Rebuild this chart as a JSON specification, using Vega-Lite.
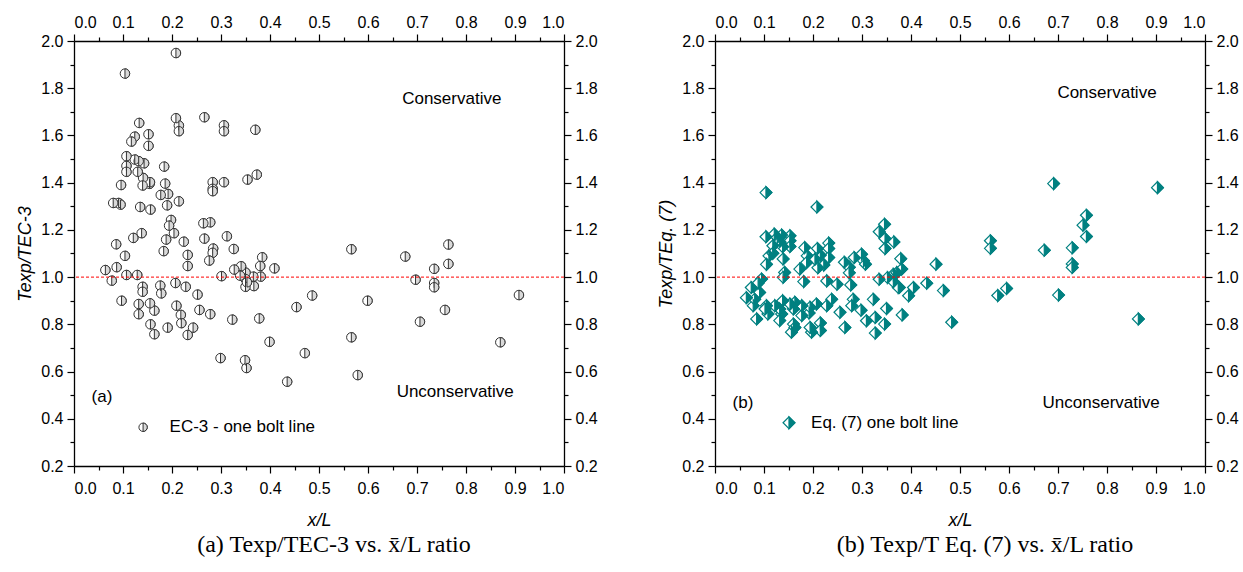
{
  "$schema": "https://vega.github.io/schema/vega-lite/v6.json",
  "padding": {"left": 16, "top": 14, "right": 5, "bottom": 5},
  "config": {
    "view": {"stroke": null},
    "font": "Liberation Sans",
    "axis": {"grid": false, "domainColor": "black", "domainWidth": 1.3, "tickColor": "black", "tickWidth": 1.2, "labelColor": "black", "labelFontSize": 16, "labelFont": "Liberation Sans", "titleColor": "black", "titleFont": "Liberation Sans", "titleFontWeight": "normal", "titleFontStyle": "italic", "titleFontSize": 18}
  },
  "datasets": {
    "ec3": [
      {"x":0.208,"y":1.949},{"x":0.104,"y":1.862},{"x":0.133,"y":1.653},{"x":0.208,"y":1.673},{"x":0.214,"y":1.642},{"x":0.214,"y":1.618},{"x":0.266,"y":1.677},{"x":0.306,"y":1.643},{"x":0.306,"y":1.618},{"x":0.370,"y":1.624},
      {"x":0.152,"y":1.605},{"x":0.124,"y":1.595},{"x":0.117,"y":1.574},{"x":0.152,"y":1.556},{"x":0.107,"y":1.512},{"x":0.124,"y":1.498},{"x":0.132,"y":1.491},{"x":0.143,"y":1.482},{"x":0.107,"y":1.471},{"x":0.107,"y":1.446},
      {"x":0.130,"y":1.446},{"x":0.184,"y":1.468},{"x":0.141,"y":1.420},{"x":0.140,"y":1.388},{"x":0.154,"y":1.395},{"x":0.155,"y":1.402},{"x":0.096,"y":1.390},{"x":0.186,"y":1.396},{"x":0.283,"y":1.402},{"x":0.283,"y":1.374},
      {"x":0.283,"y":1.364},{"x":0.306,"y":1.402},{"x":0.354,"y":1.413},{"x":0.373,"y":1.434},{"x":0.177,"y":1.348},{"x":0.192,"y":1.352},{"x":0.190,"y":1.304},{"x":0.214,"y":1.321},{"x":0.080,"y":1.314},{"x":0.091,"y":1.314},
      {"x":0.095,"y":1.307},{"x":0.135,"y":1.297},{"x":0.156,"y":1.286},{"x":0.198,"y":1.242},{"x":0.194,"y":1.218},{"x":0.204,"y":1.186},{"x":0.264,"y":1.228},{"x":0.278,"y":1.232},{"x":0.138,"y":1.186},{"x":0.121,"y":1.166},
      {"x":0.188,"y":1.159},{"x":0.224,"y":1.150},{"x":0.266,"y":1.163},{"x":0.312,"y":1.173},{"x":0.086,"y":1.139},{"x":0.284,"y":1.121},{"x":0.283,"y":1.103},{"x":0.326,"y":1.119},{"x":0.183,"y":1.110},{"x":0.232,"y":1.094},
      {"x":0.232,"y":1.047},{"x":0.104,"y":1.090},{"x":0.276,"y":1.070},{"x":0.384,"y":1.084},{"x":0.380,"y":1.047},{"x":0.409,"y":1.037},{"x":0.566,"y":1.118},{"x":0.087,"y":1.042},{"x":0.064,"y":1.030},{"x":0.341,"y":1.046},
      {"x":0.327,"y":1.032},{"x":0.350,"y":1.019},{"x":0.339,"y":1.006},{"x":0.301,"y":1.004},{"x":0.107,"y":1.009},{"x":0.129,"y":1.009},{"x":0.366,"y":1.002},{"x":0.381,"y":1.002},
      {"x":0.077,"y":0.985},{"x":0.207,"y":0.975},{"x":0.140,"y":0.959},{"x":0.140,"y":0.938},{"x":0.176,"y":0.964},{"x":0.178,"y":0.931},{"x":0.228,"y":0.959},{"x":0.252,"y":0.926},{"x":0.350,"y":0.992},{"x":0.350,"y":0.959},
      {"x":0.367,"y":0.962},{"x":0.353,"y":0.978},{"x":0.097,"y":0.900},{"x":0.132,"y":0.886},{"x":0.155,"y":0.889},{"x":0.164,"y":0.858},{"x":0.132,"y":0.843},{"x":0.209,"y":0.879},{"x":0.218,"y":0.840},{"x":0.219,"y":0.805},
      {"x":0.256,"y":0.861},{"x":0.278,"y":0.843},{"x":0.156,"y":0.800},{"x":0.164,"y":0.758},{"x":0.191,"y":0.786},{"x":0.232,"y":0.755},{"x":0.243,"y":0.786},{"x":0.323,"y":0.820},{"x":0.378,"y":0.825},{"x":0.399,"y":0.726},
      {"x":0.454,"y":0.873},{"x":0.486,"y":0.922},{"x":0.471,"y":0.678},{"x":0.299,"y":0.657},{"x":0.349,"y":0.648},{"x":0.352,"y":0.615},{"x":0.435,"y":0.557},{"x":0.566,"y":0.745},{"x":0.579,"y":0.585},{"x":0.599,"y":0.900},
      {"x":0.676,"y":1.087},{"x":0.697,"y":0.989},{"x":0.735,"y":1.035},{"x":0.735,"y":0.975},{"x":0.735,"y":0.957},{"x":0.764,"y":1.138},{"x":0.764,"y":1.056},{"x":0.757,"y":0.861},{"x":0.706,"y":0.811},{"x":0.870,"y":0.724},
      {"x":0.908,"y":0.924}
    ],
    "eq7": [
      {"x":0.104,"y":1.358},{"x":0.208,"y":1.297},{"x":0.104,"y":1.171},{"x":0.121,"y":1.182},{"x":0.127,"y":1.168},{"x":0.136,"y":1.178},{"x":0.153,"y":1.175},{"x":0.153,"y":1.154},{"x":0.153,"y":1.130},{"x":0.132,"y":1.150},
      {"x":0.118,"y":1.133},{"x":0.138,"y":1.129},{"x":0.110,"y":1.090},{"x":0.118,"y":1.101},{"x":0.105,"y":1.054},{"x":0.139,"y":1.077},{"x":0.142,"y":1.020},{"x":0.139,"y":0.999},{"x":0.183,"y":1.125},{"x":0.188,"y":1.090},
      {"x":0.173,"y":1.034},{"x":0.187,"y":1.062},{"x":0.181,"y":0.981},{"x":0.209,"y":1.121},{"x":0.215,"y":1.093},{"x":0.210,"y":1.040},{"x":0.204,"y":1.076},{"x":0.222,"y":1.051},{"x":0.232,"y":1.144},{"x":0.232,"y":1.121},
      {"x":0.232,"y":1.083},{"x":0.228,"y":0.984},{"x":0.249,"y":0.970},{"x":0.264,"y":1.063},{"x":0.274,"y":1.042},{"x":0.274,"y":1.018},{"x":0.277,"y":0.967},{"x":0.284,"y":1.083},{"x":0.299,"y":1.097},{"x":0.303,"y":1.069},
      {"x":0.307,"y":1.055},{"x":0.335,"y":1.192},{"x":0.346,"y":1.224},{"x":0.347,"y":1.163},{"x":0.347,"y":1.121},{"x":0.365,"y":1.149},{"x":0.335,"y":0.991},{"x":0.352,"y":0.998},{"x":0.364,"y":1.012},{"x":0.371,"y":1.019},
      {"x":0.379,"y":1.078},{"x":0.381,"y":1.034},{"x":0.364,"y":0.980},{"x":0.376,"y":0.956},{"x":0.395,"y":0.921},{"x":0.405,"y":0.956},{"x":0.432,"y":0.974},{"x":0.451,"y":1.055},{"x":0.350,"y":0.867},{"x":0.346,"y":0.801},
      {"x":0.327,"y":0.763},{"x":0.323,"y":0.906},{"x":0.327,"y":0.829},{"x":0.309,"y":0.815},{"x":0.298,"y":0.860},{"x":0.282,"y":0.906},{"x":0.279,"y":0.879},{"x":0.265,"y":0.787},{"x":0.255,"y":0.851},{"x":0.238,"y":0.906},
      {"x":0.228,"y":0.879},{"x":0.207,"y":0.886},{"x":0.215,"y":0.806},{"x":0.215,"y":0.774},{"x":0.197,"y":0.767},{"x":0.194,"y":0.787},{"x":0.192,"y":0.848},{"x":0.194,"y":0.872},{"x":0.177,"y":0.837},{"x":0.177,"y":0.879},
      {"x":0.163,"y":0.893},{"x":0.160,"y":0.865},{"x":0.160,"y":0.801},{"x":0.156,"y":0.767},{"x":0.163,"y":0.787},{"x":0.153,"y":0.886},{"x":0.138,"y":0.900},{"x":0.136,"y":0.844},{"x":0.132,"y":0.865},{"x":0.132,"y":0.816},
      {"x":0.122,"y":0.879},{"x":0.105,"y":0.879},{"x":0.108,"y":0.844},{"x":0.085,"y":0.823},{"x":0.102,"y":0.865},{"x":0.078,"y":0.879},{"x":0.081,"y":0.906},{"x":0.064,"y":0.913},{"x":0.074,"y":0.956},{"x":0.091,"y":0.935},
      {"x":0.095,"y":0.992},{"x":0.088,"y":0.975},{"x":0.691,"y":1.396},{"x":0.903,"y":1.379},{"x":0.758,"y":1.262},{"x":0.751,"y":1.220},{"x":0.758,"y":1.172},{"x":0.729,"y":1.124},{"x":0.672,"y":1.114},{"x":0.562,"y":1.154},
      {"x":0.562,"y":1.122},{"x":0.729,"y":1.056},{"x":0.729,"y":1.041},{"x":0.374,"y":0.956},{"x":0.466,"y":0.943},{"x":0.577,"y":0.922},{"x":0.595,"y":0.952},{"x":0.701,"y":0.924},{"x":0.483,"y":0.809},{"x":0.382,"y":0.840},
      {"x":0.864,"y":0.823}
    ],
    "annA": [
      {"x":0.771,"y":1.755,"t":"Conservative"},
      {"x":0.778,"y":0.512,"t":"Unconservative"},
      {"x":0.057,"y":0.494,"t":"(a)"}
    ],
    "annB": [
      {"x":0.80,"y":1.778,"t":"Conservative"},
      {"x":0.788,"y":0.468,"t":"Unconservative"},
      {"x":0.057,"y":0.468,"t":"(b)"}
    ],
    "legA": [{"x":0.141,"y":0.364,"tx":0.195,"t":"EC-3 - one bolt line"}],
    "legB": [{"x":0.151,"y":0.383,"tx":0.196,"t":"Eq. (7) one bolt line"}]
  },
  "spacing": 59,
  "hconcat": [
    {
      "width": 490,
      "height": 425,
      "title": {"text": "(a) Texp/TEC-3 vs. x\u0304/L  ratio", "orient": "bottom", "frame": "group", "dx": 15, "font": "Liberation Serif", "fontSize": 24, "fontWeight": "normal", "color": "black", "offset": 4},
      "resolve": {"axis": {"x": "independent", "y": "independent"}},
      "layer": [
        {
          "data": {"name": "ec3"},
          "mark": {"type": "point", "shape": "circle", "filled": true, "fill": "white", "stroke": "#333333", "strokeWidth": 1, "size": 90, "opacity": 1},
          "encoding": {
            "x": {"field": "x", "type": "quantitative", "scale": {"domain": [0, 1], "nice": false, "zero": false},
              "axis": {"orient": "bottom", "values": [0,0.1,0.2,0.3,0.4,0.5,0.6,0.7,0.8,0.9,1.0], "format": ".1f", "tickSize": 7, "labelPadding": 7, "title": "x/L", "titlePadding": 15}},
            "y": {"field": "y", "type": "quantitative", "scale": {"domain": [0.2, 2.0], "nice": false, "zero": false},
              "axis": {"orient": "left", "values": [0.2,0.4,0.6,0.8,1.0,1.2,1.4,1.6,1.8,2.0], "format": ".1f", "tickSize": 7, "labelPadding": 4, "title": "Texp/TEC-3", "titlePadding": 6}}
          }
        },
        {
          "data": {"name": "ec3"},
          "mark": {"type": "point", "shape": "M0,-1A1,1,0,0,1,0,1Z", "filled": true, "fill": "#d9d9d9", "stroke": "#333333", "strokeWidth": 1, "size": 90, "opacity": 1},
          "encoding": {
            "x": {"field": "x", "type": "quantitative", "axis": {"orient": "top", "values": [0,0.1,0.2,0.3,0.4,0.5,0.6,0.7,0.8,0.9,1.0], "format": ".1f", "tickSize": 7, "labelPadding": 4, "title": null}},
            "y": {"field": "y", "type": "quantitative", "axis": {"orient": "right", "values": [0.2,0.4,0.6,0.8,1.0,1.2,1.4,1.6,1.8,2.0], "format": ".1f", "tickSize": 7, "labelPadding": 4, "title": null}}
          }
        },
        {
          "data": {"values": [{}]},
          "mark": {"type": "rule", "color": "#ff0000", "strokeDash": [3, 2], "strokeWidth": 1},
          "encoding": {
            "y": {"datum": 1, "type": "quantitative", "axis": {"orient": "left", "values": [0.3,0.5,0.7,0.9,1.1,1.3,1.5,1.7,1.9], "labels": false, "domain": false, "tickSize": 4, "title": null}}
          }
        },
        {
          "data": {"name": "annA"},
          "mark": {"type": "text", "align": "center", "baseline": "middle", "fontSize": 17, "color": "black", "font": "Liberation Sans"},
          "encoding": {
            "x": {"field": "x", "type": "quantitative", "axis": {"orient": "bottom", "values": [0.05,0.15,0.25,0.35,0.45,0.55,0.65,0.75,0.85,0.95], "labels": false, "domain": false, "tickSize": 4, "title": null}},
            "y": {"field": "y", "type": "quantitative", "axis": {"orient": "right", "values": [0.3,0.5,0.7,0.9,1.1,1.3,1.5,1.7,1.9], "labels": false, "domain": false, "tickSize": 4, "title": null}},
            "text": {"field": "t"}
          }
        },
        {
          "data": {"name": "legA"},
          "mark": {"type": "text", "align": "left", "baseline": "middle", "fontSize": 17, "color": "black", "font": "Liberation Sans"},
          "encoding": {
            "x": {"field": "tx", "type": "quantitative", "axis": {"orient": "top", "values": [0.05,0.15,0.25,0.35,0.45,0.55,0.65,0.75,0.85,0.95], "labels": false, "domain": false, "tickSize": 4, "title": null}},
            "y": {"field": "y", "type": "quantitative", "axis": null},
            "text": {"field": "t"}
          }
        },
        {
          "data": {"name": "legA"},
          "mark": {"type": "point", "shape": "circle", "filled": true, "fill": "white", "stroke": "#333333", "strokeWidth": 1, "size": 70, "opacity": 1},
          "encoding": {
            "x": {"field": "x", "type": "quantitative", "axis": null},
            "y": {"field": "y", "type": "quantitative", "axis": null}
          }
        },
        {
          "data": {"name": "legA"},
          "mark": {"type": "point", "shape": "M0,-1A1,1,0,0,1,0,1Z", "filled": true, "fill": "#d9d9d9", "stroke": "#333333", "strokeWidth": 1, "size": 70, "opacity": 1},
          "encoding": {
            "x": {"field": "x", "type": "quantitative", "axis": null},
            "y": {"field": "y", "type": "quantitative", "axis": null}
          }
        }
      ]
    },
    {
      "width": 490,
      "height": 425,
      "title": {"text": "(b) Texp/T Eq. (7) vs. x\u0304/L    ratio", "orient": "bottom", "frame": "group", "dx": 25, "font": "Liberation Serif", "fontSize": 24, "fontWeight": "normal", "color": "black", "offset": 4},
      "resolve": {"axis": {"x": "independent", "y": "independent"}},
      "layer": [
        {
          "data": {"name": "eq7"},
          "mark": {"type": "point", "shape": "diamond", "filled": true, "fill": "white", "stroke": "#008080", "strokeWidth": 1.2, "size": 140, "opacity": 1},
          "encoding": {
            "x": {"field": "x", "type": "quantitative", "scale": {"domain": [0, 1], "nice": false, "zero": false},
              "axis": {"orient": "bottom", "values": [0,0.1,0.2,0.3,0.4,0.5,0.6,0.7,0.8,0.9,1.0], "format": ".1f", "tickSize": 7, "labelPadding": 7, "title": "x/L", "titlePadding": 15}},
            "y": {"field": "y", "type": "quantitative", "scale": {"domain": [0.2, 2.0], "nice": false, "zero": false},
              "axis": {"orient": "left", "values": [0.2,0.4,0.6,0.8,1.0,1.2,1.4,1.6,1.8,2.0], "format": ".1f", "tickSize": 7, "labelPadding": 4, "title": "Texp/TEq. (7)", "titlePadding": 6}}
          }
        },
        {
          "data": {"name": "eq7"},
          "mark": {"type": "point", "shape": "M0,-1L1,0L0,1Z", "filled": true, "fill": "#008080", "stroke": "#008080", "strokeWidth": 1.2, "size": 140, "opacity": 1},
          "encoding": {
            "x": {"field": "x", "type": "quantitative", "axis": {"orient": "top", "values": [0,0.1,0.2,0.3,0.4,0.5,0.6,0.7,0.8,0.9,1.0], "format": ".1f", "tickSize": 7, "labelPadding": 4, "title": null}},
            "y": {"field": "y", "type": "quantitative", "axis": {"orient": "right", "values": [0.2,0.4,0.6,0.8,1.0,1.2,1.4,1.6,1.8,2.0], "format": ".1f", "tickSize": 7, "labelPadding": 4, "title": null}}
          }
        },
        {
          "data": {"values": [{}]},
          "mark": {"type": "rule", "color": "#ff0000", "strokeDash": [3, 2], "strokeWidth": 1},
          "encoding": {
            "y": {"datum": 1, "type": "quantitative", "axis": {"orient": "left", "values": [0.3,0.5,0.7,0.9,1.1,1.3,1.5,1.7,1.9], "labels": false, "domain": false, "tickSize": 4, "title": null}}
          }
        },
        {
          "data": {"name": "annB"},
          "mark": {"type": "text", "align": "center", "baseline": "middle", "fontSize": 17, "color": "black", "font": "Liberation Sans"},
          "encoding": {
            "x": {"field": "x", "type": "quantitative", "axis": {"orient": "bottom", "values": [0.05,0.15,0.25,0.35,0.45,0.55,0.65,0.75,0.85,0.95], "labels": false, "domain": false, "tickSize": 4, "title": null}},
            "y": {"field": "y", "type": "quantitative", "axis": {"orient": "right", "values": [0.3,0.5,0.7,0.9,1.1,1.3,1.5,1.7,1.9], "labels": false, "domain": false, "tickSize": 4, "title": null}},
            "text": {"field": "t"}
          }
        },
        {
          "data": {"name": "legB"},
          "mark": {"type": "text", "align": "left", "baseline": "middle", "fontSize": 17, "color": "black", "font": "Liberation Sans"},
          "encoding": {
            "x": {"field": "tx", "type": "quantitative", "axis": {"orient": "top", "values": [0.05,0.15,0.25,0.35,0.45,0.55,0.65,0.75,0.85,0.95], "labels": false, "domain": false, "tickSize": 4, "title": null}},
            "y": {"field": "y", "type": "quantitative", "axis": null},
            "text": {"field": "t"}
          }
        },
        {
          "data": {"name": "legB"},
          "mark": {"type": "point", "shape": "diamond", "filled": true, "fill": "white", "stroke": "#008080", "strokeWidth": 1.2, "size": 140, "opacity": 1},
          "encoding": {
            "x": {"field": "x", "type": "quantitative", "axis": null},
            "y": {"field": "y", "type": "quantitative", "axis": null}
          }
        },
        {
          "data": {"name": "legB"},
          "mark": {"type": "point", "shape": "M0,-1L1,0L0,1Z", "filled": true, "fill": "#008080", "stroke": "#008080", "strokeWidth": 1.2, "size": 140, "opacity": 1},
          "encoding": {
            "x": {"field": "x", "type": "quantitative", "axis": null},
            "y": {"field": "y", "type": "quantitative", "axis": null}
          }
        }
      ]
    }
  ]
}
